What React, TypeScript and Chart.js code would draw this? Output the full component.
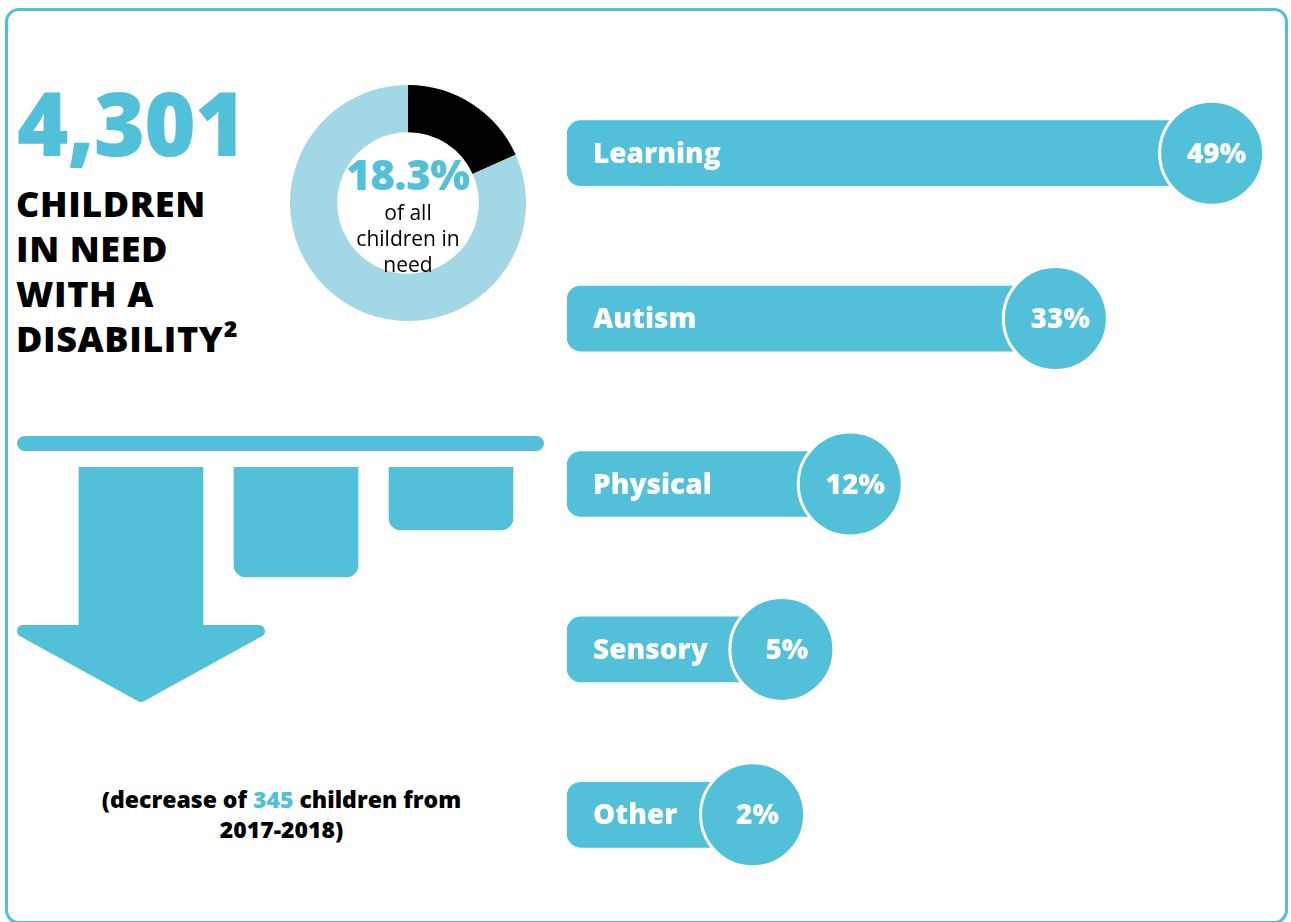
import React, { useEffect, useRef } from 'react';
import { Chart, registerables } from 'chart.js';

Chart.register(...registerables);

// ---------- data ----------
const headlineTotal = '4,301';
const headlineLines = ['CHILDREN', 'IN NEED', 'WITH A', 'DISABILITY²'];
const donutLabels = ['Children in need with a disability', 'Other children in need'];
const donutValues = [18.3, 81.7];
const donutCaption = ['of all', 'children in', 'need'];
const categories = ['Learning', 'Autism', 'Physical', 'Sensory', 'Other'];
const shares = [49, 33, 12, 5, 2];
const decreaseCount = 345;
const decreasePeriod = '2017-2018';
const iconLabels = ['step 1', 'step 2', 'step 3'];
const iconValues = [158, 110, 63];

// ---------- styles ----------
const BLUE = '#53c0da';
const LIGHT_BLUE = '#a2d7e6';
const FONT = '"Open Sans", "DejaVu Sans", sans-serif';
const HEAVY = 800;

function DonutChart() {
  const ref = useRef<HTMLCanvasElement | null>(null);
  useEffect(() => {
    if (!ref.current) return;
    const chart = new Chart(ref.current, {
      type: 'doughnut',
      data: {
        labels: donutLabels,
        datasets: [{ data: donutValues, backgroundColor: ['#000000', LIGHT_BLUE], borderWidth: 0, hoverOffset: 0 }],
      },
      options: {
        responsive: false,
        animation: false,
        devicePixelRatio: 1,
        radius: 118,
        cutout: 72,
        plugins: { legend: { display: false }, tooltip: { enabled: false } },
        layout: { padding: 0 },
      } as any,
    });
    return () => chart.destroy();
  }, []);
  return (
    <canvas
      ref={ref}
      width={240}
      height={240}
      style={{ position: 'absolute', left: 288, top: 83, width: 240, height: 240 }}
    />
  );
}

const barDecorPlugin = {
  id: 'barDecor',
  afterDatasetsDraw(chart: any) {
    const ctx = chart.ctx;
    const meta = chart.getDatasetMeta(0);
    const left = chart.chartArea.left;
    ctx.save();
    meta.data.forEach((bar: any, i: number) => {
      const { x, y } = bar.getProps(['x', 'y'], true);
      // category label
      ctx.fillStyle = '#ffffff';
      ctx.font = `${HEAVY} 28px ${FONT}`;
      ctx.textAlign = 'left';
      ctx.textBaseline = 'alphabetic';
      ctx.fillText(categories[i], left + 26, y + 9.5);
      // circle
      ctx.beginPath();
      ctx.arc(x, y, 52, 0, Math.PI * 2);
      ctx.fillStyle = BLUE;
      ctx.fill();
      ctx.lineWidth = 3;
      ctx.strokeStyle = '#ffffff';
      ctx.stroke();
      // percent
      ctx.fillStyle = '#ffffff';
      ctx.textAlign = 'center';
      ctx.fillText(`${shares[i]}%`, x + 5, y + 9.5);
    });
    ctx.restore();
  },
};

function CategoryBars() {
  const ref = useRef<HTMLCanvasElement | null>(null);
  useEffect(() => {
    if (!ref.current) return;
    const chart = new Chart(ref.current, {
      type: 'bar',
      data: {
        labels: categories,
        datasets: [
          {
            data: shares,
            backgroundColor: BLUE,
            borderWidth: 0,
            borderRadius: 14,
            borderSkipped: false,
            barThickness: 65,
            base: -17,
          } as any,
        ],
      },
      options: {
        indexAxis: 'y',
        responsive: false,
        animation: false,
        devicePixelRatio: 1,
        layout: { padding: { left: 7, right: 11, top: 10.5, bottom: 12.5 } },
        scales: {
          x: { type: 'linear', min: -17, max: 56, display: false, grid: { display: false } },
          y: { type: 'category', display: false, grid: { display: false } },
        },
        plugins: { legend: { display: false }, tooltip: { enabled: false } },
      } as any,
      plugins: [barDecorPlugin],
    });
    (document as any).fonts?.ready?.then(() => chart.update());
    return () => chart.destroy();
  }, []);
  return (
    <canvas
      ref={ref}
      width={731}
      height={850}
      style={{ position: 'absolute', left: 560, top: 60, width: 731, height: 850 }}
    />
  );
}

const iconPlugin = {
  id: 'decreaseIcon',
  beforeDatasetsDraw(chart: any) {
    const bars = chart.getDatasetMeta(0).data;
    const first = bars[0].getProps(['x', 'width'], true);
    const last = bars[bars.length - 1].getProps(['x', 'width'], true);
    const ctx = chart.ctx;
    const top = chart.chartArea.top;
    const l = first.x - first.width;
    const r = last.x + last.width / 2 + 31;
    ctx.save();
    ctx.fillStyle = BLUE;
    ctx.beginPath();
    ctx.roundRect(l, top - 31, r - l, 15, 7.5);
    ctx.fill();
    ctx.restore();
  },
  afterDatasetsDraw(chart: any) {
    const bars = chart.getDatasetMeta(0).data;
    const first = bars[0].getProps(['x', 'y', 'width'], true);
    const ctx = chart.ctx;
    const half = first.width;
    const y0 = first.y;
    ctx.save();
    ctx.fillStyle = BLUE;
    ctx.strokeStyle = BLUE;
    ctx.lineWidth = 12;
    ctx.lineJoin = 'round';
    ctx.beginPath();
    ctx.moveTo(first.x - half + 6, y0 + 6);
    ctx.lineTo(first.x + half - 6, y0 + 6);
    ctx.lineTo(first.x, y0 + 0.63 * half - 7);
    ctx.closePath();
    ctx.fill();
    ctx.stroke();
    ctx.restore();
  },
};

function DecreaseIcon() {
  const ref = useRef<HTMLCanvasElement | null>(null);
  useEffect(() => {
    if (!ref.current) return;
    const chart = new Chart(ref.current, {
      type: 'bar',
      data: {
        labels: iconLabels,
        datasets: [
          {
            data: iconValues,
            backgroundColor: BLUE,
            borderWidth: 0,
            barThickness: 124,
            borderRadius: (c: any) => (c.dataIndex === 0 ? 0 : 12),
          } as any,
        ],
      },
      options: {
        responsive: false,
        animation: false,
        devicePixelRatio: 1,
        layout: { padding: { left: 63.5, right: 31.5, top: 47, bottom: 17 } },
        scales: {
          x: { type: 'category', display: false, grid: { display: false } },
          y: { type: 'linear', reverse: true, min: 0, max: 236, display: false, grid: { display: false } },
        },
        plugins: { legend: { display: false }, tooltip: { enabled: false } },
      } as any,
      plugins: [iconPlugin],
    });
    return () => chart.destroy();
  }, []);
  return (
    <canvas
      ref={ref}
      width={560}
      height={300}
      style={{ position: 'absolute', left: 0, top: 420, width: 560, height: 300 }}
    />
  );
}

export default function App() {
  return (
    <div
      style={{
        position: 'absolute',
        left: 0,
        top: 0,
        width: 1291,
        height: 922,
        overflow: 'hidden',
        background: '#ffffff',
        fontFamily: FONT,
      }}
    >
      <div
        style={{
          position: 'absolute',
          left: 5,
          top: 8,
          width: 1283,
          height: 916,
          boxSizing: 'border-box',
          border: `3px solid ${BLUE}`,
          borderRadius: 14,
        }}
      />
      <div
        style={{
          position: 'absolute',
          left: 17,
          top: 78,
          fontSize: 88,
          lineHeight: '88px',
          fontWeight: HEAVY,
          color: BLUE,
          whiteSpace: 'nowrap',
          letterSpacing: -1,
        }}
      >
        {headlineTotal}
      </div>
      <div
        style={{
          position: 'absolute',
          left: 16,
          top: 181,
          fontSize: 36,
          lineHeight: '45px',
          fontWeight: HEAVY,
          color: '#000',
          whiteSpace: 'nowrap',
          letterSpacing: 0.6,
        }}
      >
        {headlineLines.map((t) => (
          <div key={t}>{t}</div>
        ))}
      </div>

      <DonutChart />
      <div
        style={{
          position: 'absolute',
          left: 308,
          width: 200,
          top: 153,
          textAlign: 'center',
          fontSize: 42,
          lineHeight: '42px',
          fontWeight: HEAVY,
          color: BLUE,
          letterSpacing: -0.5,
        }}
      >
        {`${donutValues[0]}%`}
      </div>
      <div
        style={{
          position: 'absolute',
          left: 308,
          width: 200,
          top: 199,
          textAlign: 'center',
          fontSize: 21,
          lineHeight: '26px',
          fontWeight: 400,
          color: '#000',
        }}
      >
        {donutCaption.map((t) => (
          <div key={t}>{t}</div>
        ))}
      </div>

      <DecreaseIcon />
      <div
        style={{
          position: 'absolute',
          left: 51.5,
          width: 460,
          top: 784,
          textAlign: 'center',
          fontSize: 23,
          lineHeight: '30px',
          fontWeight: HEAVY,
          color: '#000',
          whiteSpace: 'nowrap',
        }}
      >
        <div>
          (decrease of <span style={{ color: BLUE }}>{decreaseCount}</span> children from
        </div>
        <div>{decreasePeriod})</div>
      </div>

      <CategoryBars />
    </div>
  );
}
